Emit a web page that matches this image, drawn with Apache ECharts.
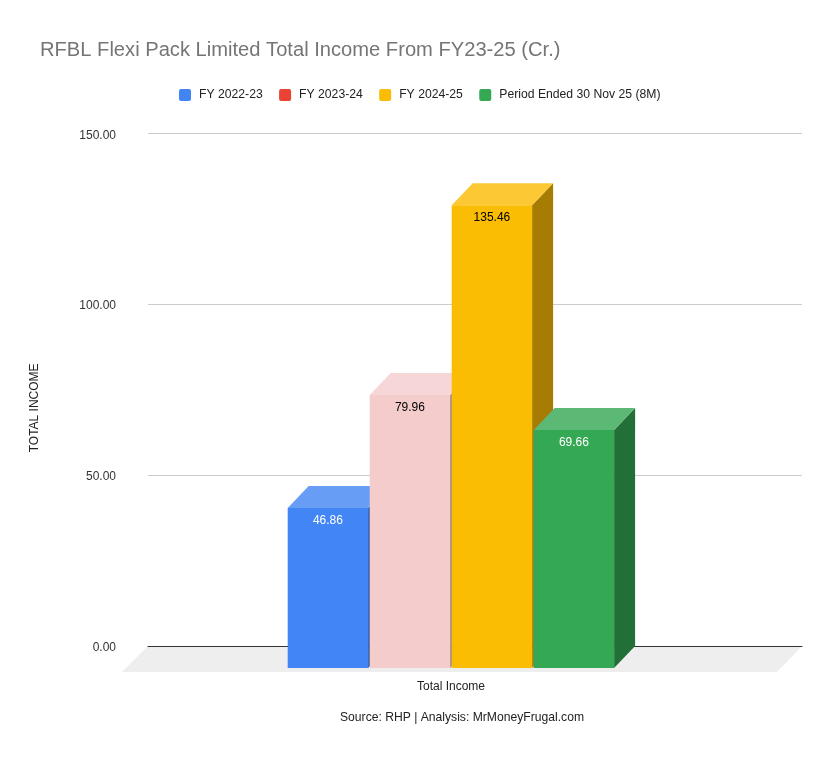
<!DOCTYPE html>
<html>
<head>
<meta charset="utf-8">
<script src="https://cdn.jsdelivr.net/npm/echarts@6/dist/echarts.min.js"></script>
<style>html,body{margin:0;padding:0;background:#fff}#c{width:840px;height:763px}</style>
</head>
<body>
<div id="c"></div>
<script>
const categories = ['Total Income'];
const seriesNames = ['FY 2022-23', 'FY 2023-24', 'FY 2024-25', 'Period Ended 30 Nov 25 (8M)'];
const fy2223 = [46.86];
const fy2324 = [79.96];
const fy2425 = [135.46];
const period8m = [69.66];
const yTicks = { min: 0, max: 150, interval: 50 };

const legendColors = ['#4285f4', '#ea4335', '#fbbc04', '#34a853'];
const frontColors = ['#4285f4', '#f4cccc', '#fbbc04', '#34a853'];
const topColors = ['#689df6', '#f6d6d6', '#fcc934', '#5cb975'];
const sideColors = ['#2c58a1', '#a18787', '#a67c03', '#226f37'];
const labelColors = ['#ffffff', '#000000', '#000000', '#ffffff'];
const allValues = [fy2223, fy2324, fy2425, period8m];

const FONT = '"Liberation Sans", Arial, sans-serif';
const DX = 21, DY = 22, STEP = 82, BAR_W = 80.4, CENTER_SHIFT = -2.3;

function barRenderer(idx) {
  return function (params, api) {
    const back = api.coord([api.value(0), api.value(1)]);
    const base = api.coord([api.value(0), 0]);
    const x0 = back[0] + CENTER_SHIFT - DX + (idx - 2) * STEP;
    const x1 = x0 + BAR_W;
    const yTop = back[1] + DY, yBot = base[1] + DY;
    const style = c => ({ fill: c });
    return {
      type: 'group',
      children: [
        { type: 'polygon', shape: { points: [[x1, yTop], [x1 + DX, yTop - DY], [x1 + DX, yBot - DY], [x1, yBot]] }, style: style(sideColors[idx]) },
        { type: 'polygon', shape: { points: [[x0, yTop], [x0 + DX, yTop - DY], [x1 + DX, yTop - DY], [x1, yTop]] }, style: style(topColors[idx]) },
        { type: 'rect', shape: { x: x0, y: yTop, width: BAR_W, height: yBot - yTop }, style: style(frontColors[idx]) },
        { type: 'text', style: { x: (x0 + x1) / 2, y: yTop + 12.5, text: api.value(1).toFixed(2), fill: labelColors[idx], font: '12px ' + FONT, align: 'center', verticalAlign: 'middle' } }
      ]
    };
  };
}

function floorRenderer(params, api) {
  const cs = params.coordSys;
  const y = api.coord([0, 0])[1];
  const l = cs.x, r = cs.x + cs.width;
  return {
    type: 'polygon',
    shape: { points: [[l, y], [r, y], [r - 25, y + 26], [l - 26, y + 26]] },
    style: { fill: '#eeeeee' }
  };
}

const chart = echarts.init(document.getElementById('c'), null, { renderer: 'canvas' });
chart.setOption({
  animation: false,
  backgroundColor: '#ffffff',
  title: [
    { text: 'RFBL Flexi Pack Limited Total Income From FY23-25 (Cr.)', left: 40, top: 40, padding: 0,
      textStyle: { fontFamily: FONT, fontSize: 20.15, fontWeight: 'normal', color: '#757575' } },
    { text: 'Source: RHP | Analysis: MrMoneyFrugal.com', left: 462, top: 712, textAlign: 'center', padding: 0,
      textStyle: { fontFamily: FONT, fontSize: 12.15, fontWeight: 'normal', color: '#222222' } }
  ],
  legend: {
    left: 179, top: 89, padding: 0,
    itemWidth: 12, itemHeight: 12, itemGap: 16.4,
    icon: 'path://M2,0H10Q12,0 12,2V10Q12,12 10,12H2Q0,12 0,10V2Q0,0 2,0Z',
    data: seriesNames,
    selectedMode: false,
    textStyle: { fontFamily: FONT, fontSize: 12.2, color: '#222222', padding: [0, 0, 0, 3] }
  },
  grid: { left: 148, right: 38, top: 133.7, bottom: 117 },
  xAxis: {
    type: 'category',
    z: 2,
    data: categories,
    axisTick: { show: false },
    axisLine: { show: true, lineStyle: { color: '#333333', width: 1 } },
    axisLabel: { margin: 35, fontFamily: FONT, fontSize: 12, color: '#222222', padding: [0, 48, 0, 0] }
  },
  yAxis: {
    type: 'value',
    min: yTicks.min, max: yTicks.max, interval: yTicks.interval,
    name: 'TOTAL INCOME',
    nameLocation: 'middle',
    nameGap: 107,
    nameTextStyle: { fontFamily: FONT, fontSize: 12, color: '#222222', padding: [0, 36, 0, 0] },
    axisLine: { show: false },
    axisTick: { show: false },
    splitLine: { lineStyle: { color: '#cccccc', width: 1 } },
    axisLabel: {
      margin: 32,
      formatter: v => '{t|' + v.toFixed(2) + '}',
      rich: { t: { fontFamily: FONT, fontSize: 12, color: '#333333', padding: [3, 0, 0, 0] } }
    }
  },
  series: [
    { type: 'custom', name: 'floor', silent: true, z: 1, renderItem: floorRenderer, data: [[0, 0]], encode: { x: 0, y: 1 } }
  ].concat(seriesNames.map((name, i) => ({
    type: 'custom',
    name,
    z: 3 + i,
    itemStyle: { color: legendColors[i] },
    renderItem: barRenderer(i),
    data: allValues[i].map((v, k) => [k, v]),
    encode: { x: 0, y: 1 }
  })))
});
</script>
</body>
</html>
